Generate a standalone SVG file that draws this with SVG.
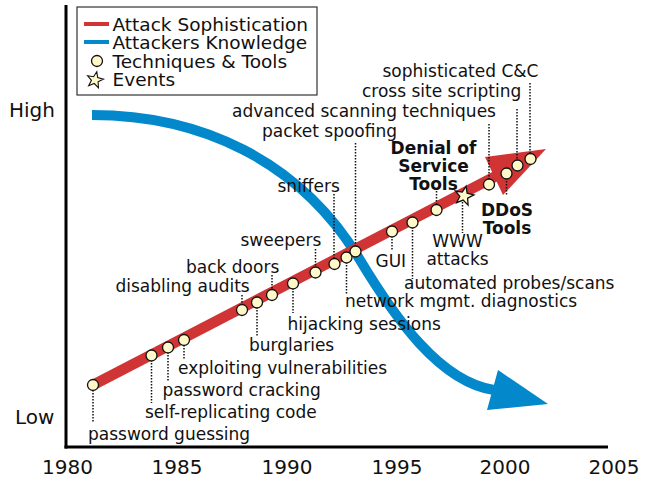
<svg xmlns="http://www.w3.org/2000/svg" width="655" height="480" viewBox="0 0 655 480">
<defs>
<style>
text{font-family:"DejaVu Sans","Liberation Sans",sans-serif;fill:#111;}
.lbl{font-size:17px;}
.mid{text-anchor:middle;}
.bold{font-size:17px;font-weight:bold;text-anchor:middle;}
.leg{font-size:18.5px;}
.ax{font-size:20px;}
.yr{font-size:20px;text-anchor:middle;}
.dot{fill:#fff9c9;stroke:#111;stroke-width:1.3;}
.lead{stroke:#111;stroke-width:1.5;stroke-dasharray:1.5 1.5;fill:none;}
.red{stroke:#d03434;fill:none;}
.blue{stroke:#0488cc;fill:none;}
</style>
<polygon id="star" points="0,-10 2.47,-3.4 9.51,-3.09 3.99,1.3 5.88,8.09 0,4.2 -5.88,8.09 -3.99,1.3 -9.51,-3.09 -2.47,-3.4"/>
</defs>
<rect width="655" height="480" fill="#fff"/>

<g id="axes">
<line x1="66" y1="5" x2="66" y2="448.5" stroke="#000" stroke-width="3"/>
<line x1="64.5" y1="447" x2="608" y2="447" stroke="#000" stroke-width="3"/>
<text class="ax" x="9" y="117">High</text>
<text class="ax" x="15" y="424">Low</text>
<text class="yr" x="67.5" y="474">1980</text>
<text class="yr" x="177" y="474">1985</text>
<text class="yr" x="287" y="474">1990</text>
<text class="yr" x="397" y="474">1995</text>
<text class="yr" x="505" y="474">2000</text>
<text class="yr" x="614" y="474">2005</text>
</g>

<g id="legend">
<rect x="77" y="7" width="240" height="88" fill="#fff" stroke="#333" stroke-width="1.2"/>
<line class="red" x1="84" y1="24" x2="109" y2="24" stroke-width="4"/>
<line class="blue" x1="84" y1="42" x2="109" y2="42" stroke-width="4"/>
<circle class="dot" cx="97" cy="61" r="5.5"/>
<use href="#star" class="dot" transform="translate(95,80) rotate(12) scale(0.85)"/>
<text class="leg" x="112.5" y="31">Attack Sophistication</text>
<text class="leg" x="112.5" y="49">Attackers Knowledge</text>
<text class="leg" x="112.5" y="68">Techniques &amp; Tools</text>
<text class="leg" x="112.5" y="86">Events</text>
</g>

<g id="connectors">
<path id="knowledge" class="blue" stroke-width="10" d="M92,115 C200,115 300,160 360,260 C395,318 440,382 494,390"/>
<polygon fill="#0488cc" points="498,370 548,404 487,410"/>
<line id="sophistication" class="red" stroke-width="10.5" x1="93" y1="385" x2="500" y2="174"/>
<polygon fill="#d03434" points="485,157 546,149 503,195"/>
</g>

<g id="n-password-guessing"><line class="lead" x1="93" y1="390" x2="93" y2="423"/><circle class="dot" cx="93" cy="385" r="5.5"/><text class="lbl" x="88" y="440">password guessing</text></g>
<g id="n-self-replicating"><line class="lead" x1="151.5" y1="360" x2="151.5" y2="403"/><circle class="dot" cx="151.5" cy="355.5" r="5.5"/><text class="lbl" x="145" y="418">self-replicating code</text></g>
<g id="n-password-cracking"><line class="lead" x1="168" y1="352" x2="168" y2="381"/><circle class="dot" cx="168" cy="347.5" r="5.5"/><text class="lbl" x="162.5" y="395.5">password cracking</text></g>
<g id="n-exploiting"><line class="lead" x1="184" y1="345" x2="184" y2="360"/><circle class="dot" cx="184" cy="340" r="5.5"/><text class="lbl" x="178" y="373.5">exploiting vulnerabilities</text></g>
<g id="n-disabling-audits"><line class="lead" x1="242" y1="295" x2="242" y2="305"/><circle class="dot" cx="242" cy="310" r="5.5"/><text class="lbl" x="115.5" y="291.5">disabling audits</text></g>
<g id="n-burglaries"><line class="lead" x1="257" y1="307" x2="257" y2="337"/><circle class="dot" cx="257" cy="302.5" r="5.5"/><text class="lbl" x="249" y="351">burglaries</text></g>
<g id="n-back-doors"><line class="lead" x1="272" y1="275" x2="272" y2="290"/><circle class="dot" cx="272" cy="295" r="5.5"/><text class="lbl" x="186" y="272.5">back doors</text></g>
<g id="n-hijacking"><line class="lead" x1="293" y1="288" x2="293" y2="313"/><circle class="dot" cx="293" cy="283.5" r="5.5"/><text class="lbl" x="287.5" y="329.5">hijacking sessions</text></g>
<g id="n-sweepers"><line class="lead" x1="315.5" y1="249" x2="315.5" y2="267"/><circle class="dot" cx="315.5" cy="272.5" r="5.5"/><text class="lbl" x="240.5" y="246">sweepers</text></g>
<g id="n-sniffers"><line class="lead" x1="334" y1="194" x2="334" y2="259"/><circle class="dot" cx="334.5" cy="264" r="5.5"/><text class="lbl" x="277.5" y="192">sniffers</text></g>
<g id="n-network-mgmt"><line class="lead" x1="346.5" y1="262" x2="346.5" y2="295"/><circle class="dot" cx="346.5" cy="257.5" r="5.5"/><text class="lbl" x="345" y="307">network mgmt. diagnostics</text></g>
<g id="n-packet-spoofing"><line class="lead" x1="355.5" y1="143" x2="355.5" y2="246"/><circle class="dot" cx="355.5" cy="251.5" r="5.5"/><text class="lbl" x="262" y="137">packet spoofing</text></g>
<g id="n-gui"><line class="lead" x1="392" y1="236" x2="392" y2="250"/><circle class="dot" cx="392" cy="231.5" r="5.5"/><text class="lbl" x="375.5" y="267">GUI</text></g>
<g id="n-automated-probes"><line class="lead" x1="412.5" y1="227" x2="412.5" y2="279"/><circle class="dot" cx="412.5" cy="222.5" r="5.5"/><text class="lbl" x="404" y="289">automated probes/scans</text></g>
<g id="n-dos-tools"><line class="lead" x1="436.5" y1="191" x2="436.5" y2="205"/><circle class="dot" cx="436.5" cy="210" r="5.5"/><text class="bold" x="433.5" y="154">Denial of</text><text class="bold" x="433.5" y="172">Service</text><text class="bold" x="433.5" y="190">Tools</text></g>
<g id="n-www-attacks"><line class="lead" x1="462.5" y1="202" x2="462.5" y2="233"/><use href="#star" class="dot" transform="translate(464,196) rotate(12)"/><text class="lbl mid" x="457.5" y="247">WWW</text><text class="lbl mid" x="457.5" y="265">attacks</text></g>
<g id="n-advanced-scanning"><line class="lead" x1="489" y1="124" x2="489" y2="179"/><circle class="dot" cx="489" cy="184.5" r="5.5"/><text class="lbl" x="232" y="116.5">advanced scanning techniques</text></g>
<g id="n-ddos-tools"><line class="lead" x1="506.5" y1="178" x2="506.5" y2="196"/><circle class="dot" cx="506.5" cy="173.5" r="5.5"/><text class="bold" x="507" y="216">DDoS</text><text class="bold" x="507" y="234">Tools</text></g>
<g id="n-cross-site-scripting"><line class="lead" x1="517" y1="109" x2="517" y2="160"/><circle class="dot" cx="517.5" cy="165.5" r="5.5"/><text class="lbl" x="362" y="97">cross site scripting</text></g>
<g id="n-sophisticated-cc"><line class="lead" x1="530" y1="83" x2="530" y2="153"/><circle class="dot" cx="530.5" cy="159" r="5.5"/><text class="lbl" x="382.5" y="77">sophisticated C&amp;C</text></g>
</svg>
